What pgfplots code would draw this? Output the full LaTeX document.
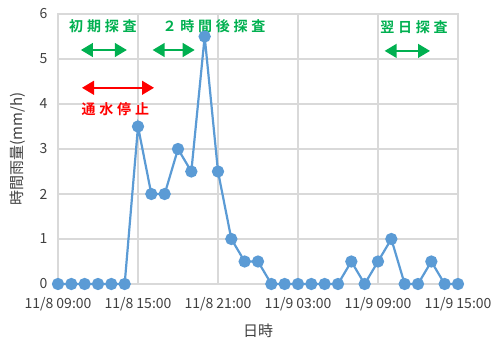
\documentclass[border=0pt]{standalone}
\usepackage{pgfplots}
\pgfplotsset{compat=1.18}
\usepackage{fontspec}
\setmainfont{Noto Sans CJK JP}[BoldFont={Noto Sans CJK JP Bold}]
\usetikzlibrary{arrows.meta}
\definecolor{lineblue}{HTML}{5B9BD5}
\definecolor{gridgray}{HTML}{D9D9D9}
\definecolor{annogreen}{HTML}{00B050}
\definecolor{annored}{HTML}{FF0000}
\definecolor{txtgray}{HTML}{404040}
\newcommand{\lsp}{\kern3.8bp}
\begin{document}
\begin{tikzpicture}
\useasboundingbox (-58bp,-56bp) rectangle (436bp,284bp);
\begin{axis}[
  scale only axis,
  width=400bp, height=270bp,
  at={(0,0)}, anchor=south west,
  xmin=0, xmax=30, ymin=0, ymax=6,
  xtick={0,6,12,18,24,30},
  xticklabels={11/8 09:00,11/8 15:00,11/8 21:00,11/9 03:00,11/9 09:00,11/9 15:00},
  ytick={0,1,2,3,4,5,6},
  major tick length=0pt,
  grid=major,
  grid style={gridgray, line width=1.2bp},
  axis line style={gridgray, line width=1.2bp},
  tick label style={font=\fontsize{14bp}{16bp}\selectfont, text=txtgray},
  /pgf/number format/assume math mode=true,
  xticklabel style={yshift=-10bp},
  yticklabel style={xshift=-7bp},
  xlabel={日時},
  ylabel={時間雨量(mm/h)},
  label style={font=\fontsize{15bp}{17bp}\selectfont, text=txtgray},
  xlabel style={yshift=-6bp},
  ylabel style={yshift=7bp},
  clip=false,
]
\addplot[color=lineblue, line width=2.2bp, mark=*, mark size=5bp, mark options={fill=lineblue, draw=lineblue}]
coordinates {
(0,0) (1,0) (2,0) (3,0) (4,0) (5,0) (6,3.5) (7,2) (8,2) (9,3) (10,2.5)
(11,5.5) (12,2.5) (13,1) (14,0.5) (15,0.5) (16,0) (17,0) (18,0) (19,0) (20,0)
(21,0) (22,0.5) (23,0) (24,0.5) (25,1) (26,0) (27,0) (28,0.5) (29,0) (30,0)
};
\tikzset{anno/.style={font=\fontsize{14bp}{16bp}\selectfont\bfseries}}
\node[anno, text=annogreen] at (axis cs:3.37,5.73) {初\lsp 期\lsp 探\lsp 査};
\node[anno, text=annogreen] at (axis cs:11.7,5.73) {２\lsp 時\lsp 間\lsp 後\lsp 探\lsp 査};
\node[anno, text=annogreen] at (axis cs:26.7,5.71) {翌\lsp 日\lsp 探\lsp 査};
\node[anno, text=annored] at (axis cs:4.3,3.89) {通\lsp 水\lsp 停\lsp 止};
\draw[annogreen, line width=1.5bp, {Triangle[length=12bp,width=14bp]}-{Triangle[length=12bp,width=14bp]}] (axis cs:1.72,5.2) -- (axis cs:5.16,5.2);
\draw[annogreen, line width=1.5bp, {Triangle[length=12bp,width=14bp]}-{Triangle[length=12bp,width=14bp]}] (axis cs:7.1,5.2) -- (axis cs:10.25,5.2);
\draw[annogreen, line width=1.5bp, {Triangle[length=12bp,width=14bp]}-{Triangle[length=12bp,width=14bp]}] (axis cs:24.5,5.18) -- (axis cs:27.9,5.18);
\draw[annored, line width=1.5bp, {Triangle[length=12bp,width=14bp]}-{Triangle[length=12bp,width=14bp]}] (axis cs:1.8,4.36) -- (axis cs:7.2,4.36);
\end{axis}
\end{tikzpicture}
\end{document}
